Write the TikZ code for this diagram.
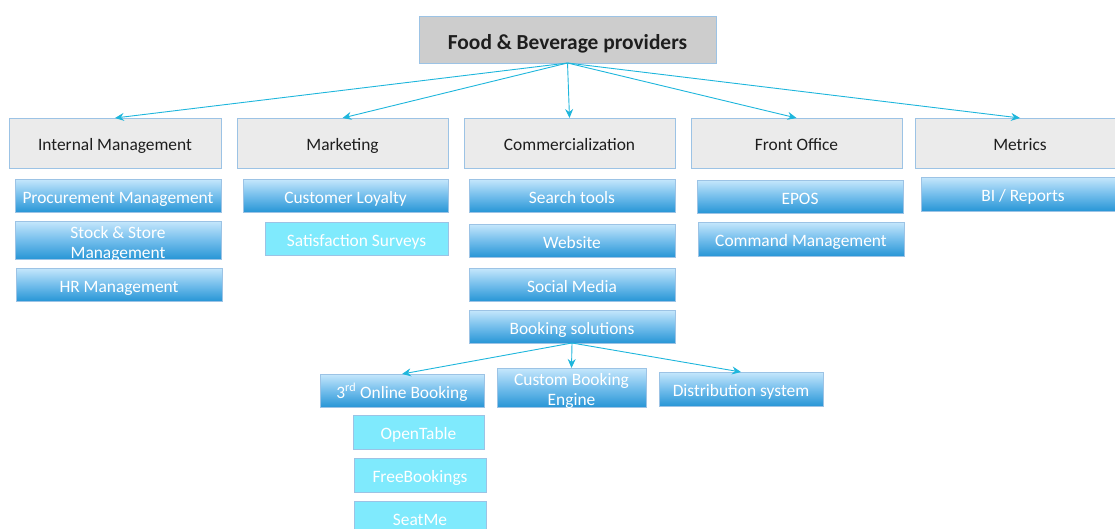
\documentclass[tikz,border=0pt]{standalone}
\usepackage{fontspec}
\setmainfont{Carlito}
\usetikzlibrary{arrows.meta}

\definecolor{boxline}{RGB}{156,195,229}
\definecolor{rootgray}{RGB}{205,205,205}
\definecolor{catgray}{RGB}{235,235,235}
\definecolor{bluetop}{RGB}{198,231,252}
\definecolor{bluemid}{RGB}{116,190,236}
\definecolor{bluebot}{RGB}{40,150,214}
\definecolor{cyanfill}{RGB}{127,234,253}
\definecolor{linkcyan}{RGB}{30,182,220}
\definecolor{textgray}{RGB}{30,30,30}

\tikzset{
  box/.style={draw=boxline, line width=0.8pt, anchor=north west, inner sep=0pt, outer sep=0pt, align=center, text height=16pt, text depth=1pt},
  twolines/.style={text height=37pt, text depth=1pt},
  rootbox/.style={box, fill=rootgray, text=textgray, font=\bfseries\fontsize{21.4}{25}\selectfont, text height=21pt},
  catbox/.style={box, fill=catgray, text=textgray, font=\fontsize{17.4}{20}\selectfont},
  bluebox/.style={box, top color=bluetop, bottom color=bluebot, middle color=bluemid, text=white, font=\fontsize{17.4}{20}\selectfont},
  cyanbox/.style={box, fill=cyanfill, text=white, font=\fontsize{17.4}{20}\selectfont},
  link/.style={draw=linkcyan, line width=0.9pt, -{Stealth[length=9pt,width=8pt,inset=3pt]}}
}

\begin{document}
\begin{tikzpicture}[x=1pt,y=1pt,yscale=-1]
\path[use as bounding box] (0,0) rectangle (1115,528);
\clip (0,0) rectangle (1115,528);

% Root
\node[rootbox, minimum width=297pt, minimum height=47pt] (root) at (419,16) {Food \& Beverage providers};

% Level 1
\node[catbox, minimum width=212pt, minimum height=50pt] (intm) at (9,118) {Internal Management};
\node[catbox, minimum width=211pt, minimum height=50pt] (mktg) at (237,118) {Marketing};
\node[catbox, minimum width=211pt, minimum height=50pt] (comm) at (464,118) {Commercialization};
\node[catbox, minimum width=211pt, minimum height=50pt] (front) at (691,118) {Front Office};
\node[catbox, minimum width=210pt, minimum height=50pt] (metr) at (915,118) {Metrics};

% Internal Management
\node[bluebox, minimum width=206pt, minimum height=33pt] (proc) at (15,179) {Procurement Management};
\node[bluebox, twolines, minimum width=206pt, minimum height=38pt] (stock) at (15,221) {Stock \& Store\\Management};
\node[bluebox, minimum width=206pt, minimum height=33pt] (hrm) at (16,268) {HR Management};

% Marketing
\node[bluebox, minimum width=205pt, minimum height=33pt] (loyal) at (243,179) {Customer Loyalty};
\node[cyanbox, minimum width=183pt, minimum height=33pt] (survey) at (265,222) {Satisfaction Surveys};

% Commercialization
\node[bluebox, minimum width=206pt, minimum height=33pt] (search) at (469,179) {Search tools};
\node[bluebox, minimum width=206pt, minimum height=33pt] (web) at (469,224) {Website};
\node[bluebox, minimum width=206pt, minimum height=33pt] (social) at (469,268) {Social Media};
\node[bluebox, minimum width=206pt, minimum height=33pt] (booking) at (469,310) {Booking solutions};

% Front Office
\node[bluebox, minimum width=206pt, minimum height=33pt] (epos) at (697,180) {EPOS};
\node[bluebox, minimum width=206pt, minimum height=34pt] (command) at (698,222) {Command Management};

% Metrics
\node[bluebox, minimum width=204pt, minimum height=34pt] (bi) at (921,177) {BI / Reports};

% Booking solutions
\node[bluebox, minimum width=164pt, minimum height=33pt] (third) at (320,374) {3\textsuperscript{rd} Online Booking};
\node[bluebox, twolines, minimum width=149pt, minimum height=39pt] (custom) at (497,368) {Custom Booking\\Engine};
\node[bluebox, minimum width=164pt, minimum height=34pt] (distrib) at (659,372) {Distribution system};

\node[cyanbox, minimum width=131pt, minimum height=34pt] (opentable) at (353,415) {OpenTable};
\node[cyanbox, minimum width=132pt, minimum height=34pt] (freebook) at (354,458) {FreeBookings};
\node[cyanbox, minimum width=132pt, minimum height=34pt] (seatme) at (354,501) {SeatMe};

% Connectors
\draw[link] (root.south) -- (intm.north);
\draw[link] (root.south) -- (mktg.north);
\draw[link] (root.south) -- (comm.north);
\draw[link] (root.south) -- (front.north);
\draw[link] (root.south) -- (metr.north);

\draw[link] (booking.south) -- (third.north);
\draw[link] (booking.south) -- (custom.north);
\draw[link] (booking.south) -- (distrib.north);

\end{tikzpicture}
\end{document}
